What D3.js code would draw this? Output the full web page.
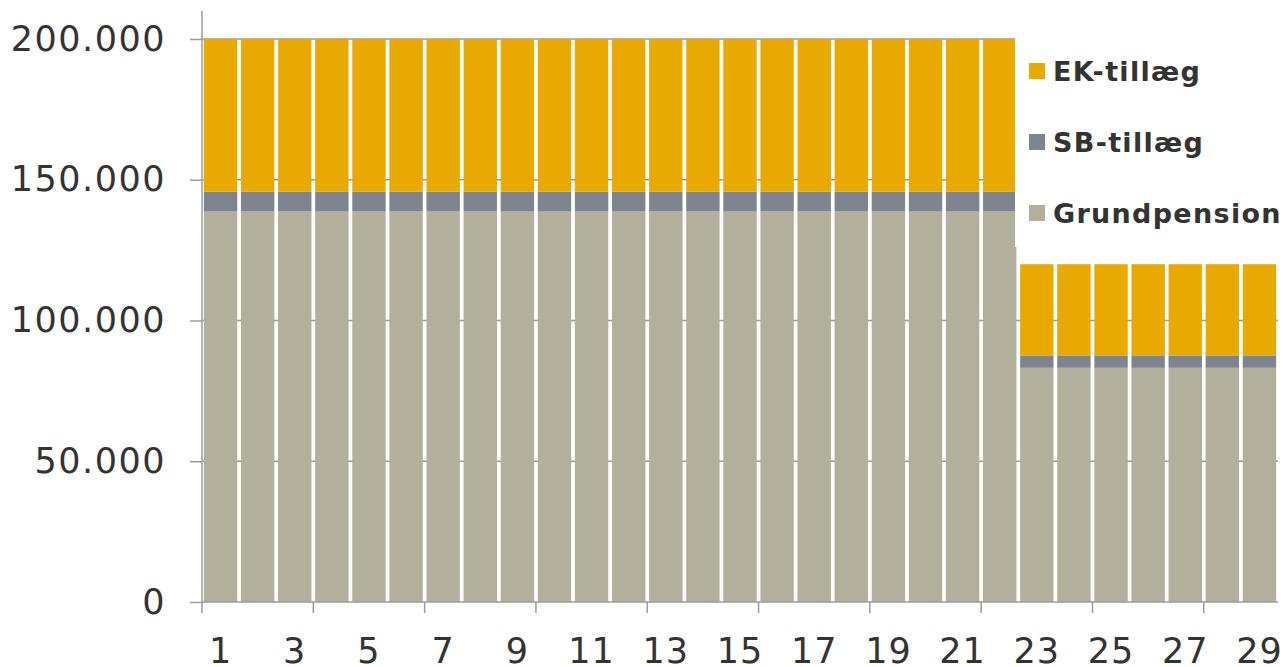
<!DOCTYPE html>
<html>
<head>
<meta charset="utf-8">
<script src="https://cdn.jsdelivr.net/npm/d3@7"></script>
<style>
  body { margin: 0; background: #fff; }
  svg { display: block; font-family: "DejaVu Sans", Verdana, sans-serif; }
</style>
</head>
<body>
<div id="vis"></div>
<script>
// categories 1..29
const categories = ["1","2","3","4","5","6","7","8","9","10","11","12","13","14","15","16","17","18","19","20","21","22","23","24","25","26","27","28","29"]
// series values (kr.)
const grundpension = [138700,138700,138700,138700,138700,138700,138700,138700,138700,138700,138700,138700,138700,138700,138700,138700,138700,138700,138700,138700,138700,138700,83200,83200,83200,83200,83200,83200,83200]
const sbTillaeg = [7100,7100,7100,7100,7100,7100,7100,7100,7100,7100,7100,7100,7100,7100,7100,7100,7100,7100,7100,7100,7100,7100,4400,4400,4400,4400,4400,4400,4400]
const ekTillaeg = [54200,54200,54200,54200,54200,54200,54200,54200,54200,54200,54200,54200,54200,54200,54200,54200,54200,54200,54200,54200,54200,54200,32400,32400,32400,32400,32400,32400,32400]
const yTicks = [0, 50000, 100000, 150000, 200000]
const xLabels = ["1","3","5","7","9","11","13","15","17","19","21","23","25","27","29"]
const seriesNames = ["Grundpension", "SB-tillæg", "EK-tillæg"]
const colors = {"Grundpension": "#b2b09c", "SB-tillæg": "#7f8590", "EK-tillæg": "#e8a900"}

const W = 1283, H = 667
const margin = {top: 39, left: 202, right: 5, bottom: 65}
const width = W - margin.left - margin.right
const height = H - margin.top - margin.bottom

const svg = d3.select("#vis").append("svg")
    .attr("width", W)
    .attr("height", H)

const g = svg.append("g")
    .attr("transform", "translate(" + margin.left + "," + margin.top + ")")

// build table for the stack
const table = categories.map((c, i) => ({
    cat: c,
    "Grundpension": grundpension[i],
    "SB-tillæg": sbTillaeg[i],
    "EK-tillæg": ekTillaeg[i]
}))
const stacked = d3.stack().keys(seriesNames)(table)

const x = d3.scaleBand()
    .domain(categories)
    .range([0, width])
    .paddingInner(0.1)
    .paddingOuter(0.05)

const y = d3.scaleLinear()
    .domain([0, 200000])
    .range([height, 0])

const gridColor = "#9c9c9c"
const fmt = d => d3.format(",")(d).replace(/,/g, ".")

// gridlines behind bars
g.append("g")
    .selectAll("line")
    .data(yTicks.filter(d => d > 0))
    .enter()
    .append("line")
    .attr("x1", 0)
    .attr("x2", width)
    .attr("y1", d => y(d))
    .attr("y2", d => y(d))
    .attr("stroke", gridColor)
    .attr("stroke-width", 1.3)

// bars
g.selectAll(".series")
    .data(stacked)
    .enter()
    .append("g")
    .attr("fill", d => colors[d.key])
    .selectAll("rect")
    .data(d => d)
    .enter()
    .append("rect")
    .attr("x", d => x(d.data.cat))
    .attr("y", d => y(d[1]))
    .attr("width", x.bandwidth())
    .attr("height", d => y(d[0]) - y(d[1]))

// y axis
const yAxis = g.append("g")
    .call(d3.axisLeft(y).tickValues(yTicks).tickSize(12).tickPadding(24).tickFormat(fmt))
yAxis.select(".domain").remove()
yAxis.append("line")
    .attr("x1", 0).attr("x2", 0)
    .attr("y1", -28).attr("y2", height)
yAxis.selectAll("line").attr("stroke", gridColor).attr("stroke-width", 1.5)
yAxis.selectAll("text")
    .attr("fill", "#333")
    .style("font-size", "35px")
    .style("letter-spacing", "1.5px")
    .style("font-family", "DejaVu Sans, sans-serif")

// x axis: labels at every second category, ticks at every third boundary
const step = x.step()
const half = step * x.paddingInner() / 2
const xAxis = g.append("g")
    .attr("transform", "translate(0," + height + ")")
xAxis.append("line")
    .attr("x1", 0).attr("x2", width)
    .attr("stroke", gridColor).attr("stroke-width", 1.5)
xAxis.selectAll(".tickmark")
    .data(categories.filter((d, i) => i % 3 === 0))
    .enter()
    .append("line")
    .attr("x1", d => x(d) - half)
    .attr("x2", d => x(d) - half)
    .attr("y1", 0)
    .attr("y2", 11)
    .attr("stroke", gridColor)
    .attr("stroke-width", 1.5)
xAxis.selectAll("text")
    .data(xLabels)
    .enter()
    .append("text")
    .attr("x", d => x(d) + x.bandwidth() / 2)
    .attr("y", 61)
    .attr("text-anchor", "middle")
    .attr("fill", "#333")
    .style("font-size", "35px")
    .style("letter-spacing", "1px")
    .text(d => d)

// legend with white box
const legend = svg.append("g")
legend.append("rect")
    .attr("x", 1015).attr("y", 0)
    .attr("width", W - 1015).attr("height", 247)
    .attr("fill", "#fff")
const legendItems = seriesNames.slice().reverse()
const item = legend.selectAll(".item")
    .data(legendItems)
    .enter()
    .append("g")
    .attr("transform", (d, i) => "translate(1029," + (71 + i * 71) + ")")
item.append("rect")
    .attr("x", 0).attr("y", -8)
    .attr("width", 16).attr("height", 16)
    .attr("fill", d => colors[d])
item.append("text")
    .attr("x", 24)
    .attr("y", 10)
    .attr("fill", "#333")
    .style("font-size", "27px")
    .style("font-weight", "bold")
    .style("letter-spacing", "1.3px")
    .text(d => d)
</script>
</body>
</html>
